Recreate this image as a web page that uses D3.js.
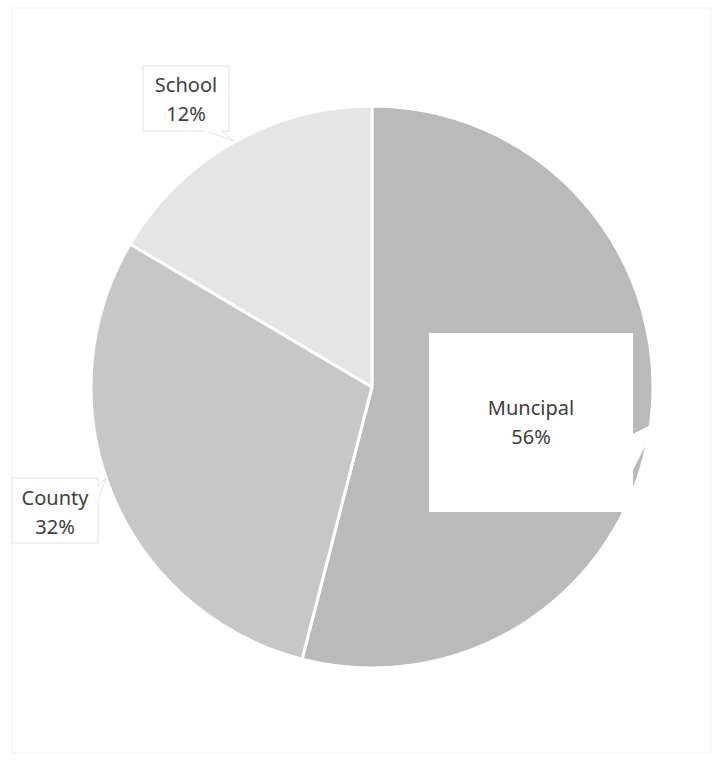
<!DOCTYPE html>
<html>
<head>
<meta charset="utf-8">
<script src="https://cdn.jsdelivr.net/npm/d3@7"></script>
<style>
  body { margin: 0; background: #fff; }
  svg text { font-family: 'Noto Sans', 'Open Sans', sans-serif; fill: #404040; }
</style>
</head>
<body>
<div class="pie-container"></div>
<script>
//Data
const categories = ['Muncipal', 'County', 'School'];
// slice sizes as drawn in the picture (share of 100)
const sliceValues = [54, 29.5, 16.5];
// percentage text printed on the labels
const pctLabels = ['56%', '32%', '12%'];
const sliceColors = ['#bababa', '#c7c7c7', '#e5e5e5'];

const svg_width = 721;
const svg_height = 770;
const center = {x: 372, y: 387};
const radius = 281;

const this_svg = d3.select('.pie-container').append('svg')
  .attr('width', svg_width).attr('height', svg_height);

// faint chart-area frame
this_svg.append('rect')
  .attr('x', 12).attr('y', 8).attr('width', 699).attr('height', 745)
  .style('fill', 'none').style('stroke', '#f1f1f1');

const pieData = d3.pie().sort(null).value(d => d.value)(
  categories.map((c, i) => ({name: c, value: sliceValues[i], pct: pctLabels[i]}))
);
const arc = d3.arc().innerRadius(0).outerRadius(radius);

const slices = this_svg.append('g')
  .attr('transform', `translate(${center.x},${center.y})`);
slices.selectAll('.slice').data(pieData).join('path')
  .attr('class', 'slice')
  .attr('d', arc)
  .style('fill', (d, i) => sliceColors[i])
  .style('stroke', '#fff')
  .style('stroke-width', 3)
  .style('stroke-linejoin', 'round');

//Labels (callout boxes)
// box geometry per label: [left, top, width, height], pointer polygon, text centre
const boxes = [
  {x: 429, y: 333, w: 204, h: 179, fill: '#fff', stroke: 'none',
   pointer: [[633, 434], [658, 421], [633, 470]], tx: 531, ty: 415},
  {x: 12, y: 478, w: 86, h: 65, fill: '#fff', stroke: '#e2e2e2',
   pointer: [[98, 486], [106, 478], [98, 500]], tx: 55, ty: 505},
  {x: 143, y: 66, w: 86, h: 65, fill: '#fff', stroke: '#e2e2e2',
   pointer: [[205, 131], [234, 141], [222, 131]], tx: 186, ty: 92}
];

const labels = this_svg.append('g').attr('class', 'labels');
pieData.forEach((d, i) => {
  const b = boxes[i];
  const g = labels.append('g');
  g.append('rect')
    .attr('x', b.x).attr('y', b.y).attr('width', b.w).attr('height', b.h)
    .style('fill', b.fill).style('stroke', b.stroke);
  g.append('polygon')
    .attr('points', b.pointer.map(p => p.join(',')).join(' '))
    .style('fill', '#fff').style('stroke', b.stroke);
  // cover the box edge where the pointer joins
  if (b.stroke !== 'none') {
    g.append('line')
      .attr('x1', b.pointer[0][0]).attr('y1', b.pointer[0][1])
      .attr('x2', b.pointer[2][0]).attr('y2', b.pointer[2][1])
      .style('stroke', '#fff').style('stroke-width', 2);
  }
  const t = g.append('text').attr('text-anchor', 'middle').style('font-size', '20px');
  t.append('tspan').text(d.data.name).attr('x', b.tx).attr('y', b.ty);
  t.append('tspan').text(d.data.pct).attr('x', b.tx).attr('y', b.ty + 29);
});
</script>
</body>
</html>
